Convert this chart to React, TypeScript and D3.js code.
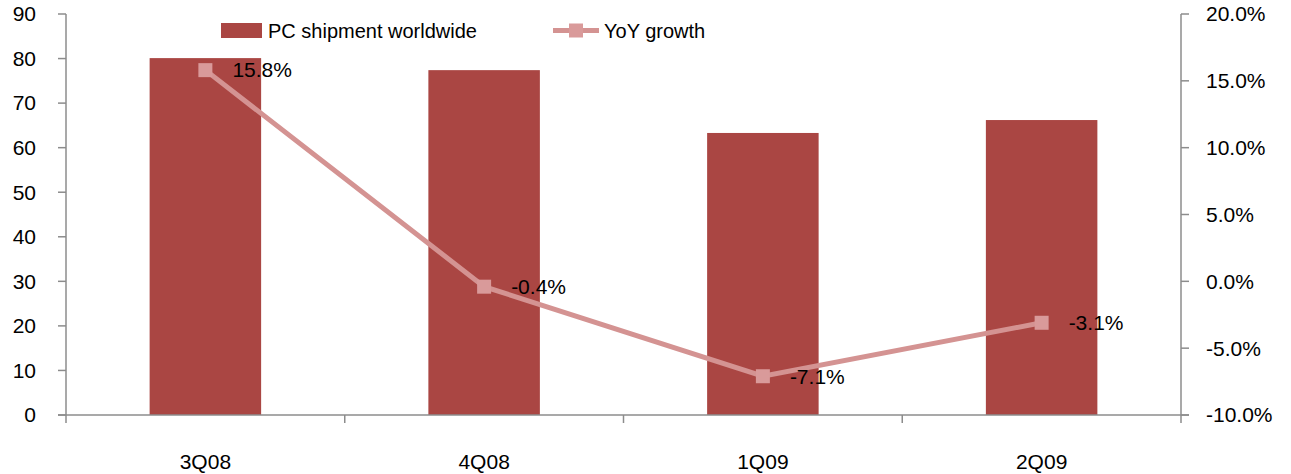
import React from "react";
import * as d3 from "d3";

const categories = ["3Q08", "4Q08", "1Q09", "2Q09"];
const shipments = [80.1, 77.4, 63.3, 66.2];
const yoyGrowth = [15.8, -0.4, -7.1, -3.1];
const leftTicks = [0, 10, 20, 30, 40, 50, 60, 70, 80, 90];
const rightTicks = [-10, -5, 0, 5, 10, 15, 20];

const W = 1291;
const H = 474;
const left = 66;
const right = 1181;
const top = 14;
const bottom = 415;
const font = "'Liberation Sans', Arial, sans-serif";
const axisColor = "#8c8c8c";
const barColor = "#AA4643";
const lineColor = "#D49392";
const markerColor = "#D99A9A";
const numSize = 21;

export default function App() {
  const x = d3.scaleBand<string>().domain(categories).range([left, right]).paddingInner(0.6).paddingOuter(0.3);
  const xCat = d3.scaleBand<string>().domain(categories).range([left, right]);
  const yL = d3.scaleLinear().domain([0, 90]).range([bottom, top]);
  const yR = d3.scaleLinear().domain([-10, 20]).range([bottom, top]);
  const line = d3
    .line<number>()
    .x((_, i) => xCat(categories[i])! + xCat.bandwidth() / 2)
    .y((d) => yR(d));
  const catEdges = [...categories.map((c) => xCat(c)!), right];
  const ms = 14;

  return (
    <svg width={W} height={H} style={{ position: "absolute", left: 0, top: 0 }} fontFamily={font}>
      <rect width={W} height={H} fill="#fff" />
      {shipments.map((v, i) => (
        <rect key={i} x={x(categories[i])} y={yL(v)} width={x.bandwidth()} height={bottom - yL(v)} fill={barColor} />
      ))}
      <line x1={left} x2={left} y1={top} y2={bottom} stroke={axisColor} strokeWidth={1.5} />
      {leftTicks.map((t) => (
        <g key={t}>
          <line x1={left - 8} x2={left} y1={yL(t)} y2={yL(t)} stroke={axisColor} strokeWidth={1.5} />
          <text x={36} y={yL(t)} dy="0.35em" textAnchor="end" fontSize={numSize} fill="#000">
            {t}
          </text>
        </g>
      ))}
      <line x1={right} x2={right} y1={top} y2={bottom} stroke={axisColor} strokeWidth={1.5} />
      {rightTicks.map((t) => (
        <g key={t}>
          <line x1={right} x2={right + 8} y1={yR(t)} y2={yR(t)} stroke={axisColor} strokeWidth={1.5} />
          <text x={1206} y={yR(t)} dy="0.35em" textAnchor="start" fontSize={numSize} fill="#000">
            {t.toFixed(1) + "%"}
          </text>
        </g>
      ))}
      <line x1={left - 8} x2={right + 8} y1={bottom} y2={bottom} stroke={axisColor} strokeWidth={1.5} />
      {catEdges.map((e, i) => (
        <line key={i} x1={e} x2={e} y1={bottom} y2={bottom + 8} stroke={axisColor} strokeWidth={1.5} />
      ))}
      {categories.map((c) => (
        <text key={c} x={xCat(c)! + xCat.bandwidth() / 2} y={469} textAnchor="middle" fontSize={numSize} fill="#000">
          {c}
        </text>
      ))}
      <path d={line(yoyGrowth)!} fill="none" stroke={lineColor} strokeWidth={5} />
      {yoyGrowth.map((v, i) => {
        const cx = xCat(categories[i])! + xCat.bandwidth() / 2;
        const cy = yR(v);
        return (
          <g key={i}>
            <rect x={cx - ms / 2} y={cy - ms / 2} width={ms} height={ms} fill={markerColor} />
            <text x={cx + 27} y={cy} dy="0.35em" fontSize={numSize} fill="#000">
              {v.toFixed(1) + "%"}
            </text>
          </g>
        );
      })}
      <rect x={221} y={23} width={41} height={15} fill={barColor} />
      <text x={268} y={30.5} dy="0.35em" fontSize={20} fill="#000">
        PC shipment worldwide
      </text>
      <line x1={553} x2={599} y1={30.5} y2={30.5} stroke={lineColor} strokeWidth={5} />
      <rect x={569} y={23.5} width={ms} height={ms} fill={markerColor} />
      <text x={604} y={30.5} dy="0.35em" fontSize={20} fill="#000">
        YoY growth
      </text>
    </svg>
  );
}
